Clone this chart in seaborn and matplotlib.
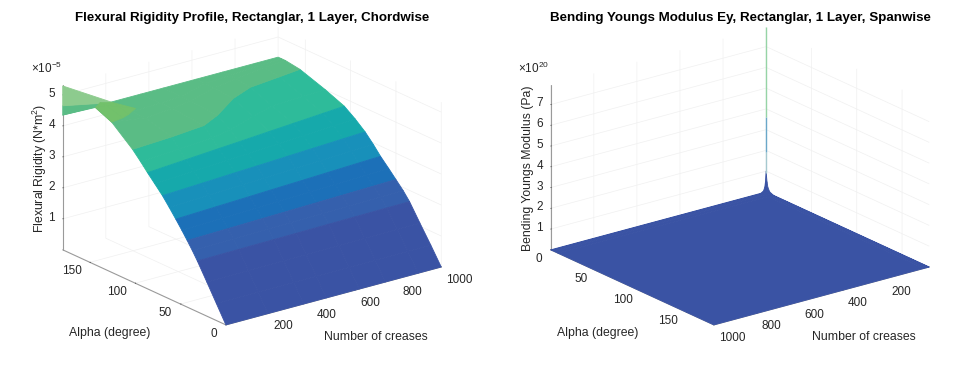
import numpy as np
import seaborn as sns
import matplotlib
matplotlib.use("Agg")
import matplotlib.pyplot as plt
from matplotlib.colors import ListedColormap, BoundaryNorm, to_rgba
from mpl_toolkits.mplot3d import proj3d

# colour bands of the surface
band_edges = [0, 1.64, 2.15, 2.67, 3.23, 3.75, 4.28, 4.85, 9]
band_colors = ['#3A53A4', '#3560AD', '#1C70B8', '#1890BA', '#16A9AB', '#2EBB9A', '#5ABC85', '#72C16B']

# left chart, rigidity in 1e-5: alpha (degree) where the surface reaches each height
creases = [0, 195, 361, 466, 619, 741, 893, 1000]
rigidity_levels = [0, 0.55, 1.1, 1.64, 1.9, 2.15, 2.4, 2.67, 2.95, 3.23, 3.5, 3.75, 4.0, 4.28]
alpha_at_level = [
    [0, 0, 0, 0, 0, 0, 0, 0],
    [10.5, 10.7, 10.9, 11, 11.1, 11.2, 11.4, 11.5],
    [21, 21.5, 21.9, 22.2, 22.5, 22.9, 23.2, 23.5],
    [31.5, 32.2, 32.8, 33.1, 33.7, 34.1, 34.6, 35],
    [37, 38, 38.8, 39.3, 40.1, 40.7, 41.5, 42],
    [42.7, 44.1, 45.3, 46.1, 47.2, 48.1, 49.2, 50],
    [48.6, 50.4, 52, 53, 54.4, 55.6, 57, 58],
    [55.3, 57.6, 59.5, 60.8, 62.5, 64, 65.8, 67],
    [62.5, 65, 67, 68.3, 70.2, 71.8, 73.7, 75],
    [70, 72.7, 75.1, 76.5, 78.7, 80.4, 82.5, 84],
    [78.5, 81.7, 84.5, 86.2, 88.7, 90.7, 93.2, 95],
    [86.5, 90.5, 93.9, 96, 99.2, 101.7, 104.8, 107],
    [94, 98, 101, 106, 117, 125, 127, 128],
    [103, 106, 110, 120, 139, 149, 153, 156],
]

# plateau above the last level, up to alpha 180
plateau_alpha = [
    [103, 106, 110, 120, 139, 149, 153, 156],
    [126, 135, 145, 150, 160, 165, 170, 172],
    [144, 150, 158, 160, 170, 172, 175, 176],
    [180, 180, 180, 180, 180, 180, 180, 180],
]
plateau_rigidity = [
    [4.28, 4.28, 4.28, 4.28, 4.28, 4.28, 4.28, 4.28],
    [4.85, 4.5, 4.36, 4.34, 4.34, 4.34, 4.35, 4.35],
    [5.08, 4.5, 4.36, 4.35, 4.35, 4.35, 4.35, 4.35],
    [4.35, 4.35, 4.35, 4.35, 4.35, 4.35, 4.35, 4.35],
]

# small hump near few creases
hump_creases = [0, 60, 100, 156]
hump_alpha = [
    [126, 128, 131, 137],
    [144, 146, 142, 137],
    [144, 153, 148.5, 137],
]
hump_rigidity = [
    [4.85, 4.85, 4.85, 4.85],
    [5.08, 5.0, 4.95, 4.85],
    [5.08, 5.0, 4.99, 4.85],
]

# fan from the jump at alpha 180 to the hump
fan_creases = [0, 100]
fan_alpha = [[180, 148.5], [180, 148.5], [180, 148.5]]
fan_rigidity = [[5.29, 4.99], [4.65, 4.99], [4.35, 4.99]]
fan_colors = ['#8DCB8E', '#5ABC85']

# right chart, modulus in 1e20
modulus_creases = [0, 3, 6, 12, 25, 1000]
modulus_alpha = [0, 1, 2, 4, 8, 180]
modulus = [
    [1.0, 0.5, 0.25, 0.08, 0, 0],
    [0.5, 0.3, 0.15, 0.05, 0, 0],
    [0.25, 0.15, 0.08, 0.03, 0, 0],
    [0.08, 0.05, 0.03, 0, 0, 0],
    [0, 0, 0, 0, 0, 0],
    [0, 0, 0, 0, 0, 0],
]
spike_heights = [0.9, 1.9, 3.6, 7.94]
spike_colors = ['#a6c9d0', '#6aa8c9', '#96d4a6']

alpha_ticks = [0, 50, 100, 150]
crease_ticks = [200, 400, 600, 800, 1000]
rigidity_ticks = [1, 2, 3, 4, 5]
modulus_ticks = [1, 2, 3, 4, 5, 6, 7]

sns.set_theme(style='white')
plt.rcParams['font.family'] = ['Liberation Sans', 'DejaVu Sans']
plt.rcParams['mathtext.default'] = 'regular'

cmap = ListedColormap(sns.color_palette(band_colors))
norm = BoundaryNorm(band_edges, cmap.N)

W, H = 976, 366
fig = plt.figure(figsize=(W / 100, H / 100), dpi=100)


def make_axes(center_x, z_top, z_ticks, azim, label_n, label_alpha):
    side = 408
    left = center_x - side * 0.95 / 1.85
    bottom = 190 - side * 0.95 / 1.85
    ax = fig.add_axes([left / W, bottom / H, side / W, side / H], projection='3d',
                      proj_type='ortho', computed_zorder=False)
    ax.patch.set_alpha(0)
    ax.view_init(elev=20.6, azim=azim)
    ax.set_box_aspect((271, 268.5, 176))
    ax.set_xlim(0, 1000)
    ax.set_ylim(0, 180)
    ax.set_zlim(0, z_top)
    ax.set_xticks(crease_ticks)
    ax.set_yticks(alpha_ticks)
    ax.set_zticks(z_ticks)
    for axis in (ax.xaxis, ax.yaxis, ax.zaxis):
        axis.set_pane_color((1, 1, 1, 0))
        axis.pane.set_edgecolor('none')
        axis.line.set_color('#9a9a9a')
        axis.line.set_linewidth(0.8)
        axis._axinfo['grid'].update(color='#f0f0f0', linewidth=0.5)
        axis._axinfo['tick'].update(color='#9a9a9a', inward_factor=0.0, outward_factor=0.03,
                                    linewidth={True: 0.5, False: 0.5})
    ax.tick_params(labelsize=8.5, labelcolor='#262626')
    ax.tick_params(axis='x', pad=-3.5)
    ax.tick_params(axis='y', pad=-2)
    plt.setp(ax.get_xticklabels(), ha='left')
    plt.setp(ax.get_yticklabels(), ha='right', va='center')
    # z tick labels sit just left of the z axis, level with their grid lines
    plt.setp(ax.get_zticklabels(), visible=False)
    proj = ax.get_proj()
    for z in z_ticks:
        px, py, _ = proj3d.proj_transform(label_n, label_alpha, z + 4 * z_top / 165, proj)
        ax.text2D(px, py, str(z), transform=ax.transData, fontsize=8.5, color='#262626',
                  ha='center', va='center')
    return ax


def surface(ax, xs, ys, zs, colors=None):
    xs, ys, zs = np.array(xs), np.array(ys), np.array(zs)
    if colors is None:
        mean_z = (zs[:-1, :-1] + zs[1:, :-1] + zs[:-1, 1:] + zs[1:, 1:]) / 4
        colors = cmap(norm(mean_z))
    ax.plot_surface(xs, ys, zs, rstride=1, cstride=1, facecolors=colors,
                    linewidth=0.6, antialiased=True, shade=False)


# left chart
ax1 = make_axes(252, 5.32, rigidity_ticks, -127.4, -51, 180)
n_main = np.tile(creases, (len(rigidity_levels), 1))
z_main = np.tile(np.array(rigidity_levels)[:, None], (1, len(creases)))
surface(ax1, n_main, alpha_at_level, z_main)
surface(ax1, np.tile(creases, (4, 1)), plateau_alpha, plateau_rigidity)
surface(ax1, np.tile(fan_creases, (3, 1)), fan_alpha, fan_rigidity,
        np.array([[to_rgba(c)] for c in fan_colors]))
surface(ax1, np.tile(hump_creases, (3, 1)), hump_alpha, hump_rigidity)

# right chart
ax2 = make_axes(740, 7.94, modulus_ticks, 52.6, 1051, 0)
mx, my = np.meshgrid(modulus_creases, modulus_alpha)
surface(ax2, mx, my, modulus)
for i, c in enumerate(spike_colors):
    ax2.plot([0, 0], [0, 0], spike_heights[i:i + 2], color=c, lw=1.0, solid_capstyle='butt')


def px_text(x, y, s, **kw):
    fig.text(x / W, 1 - y / H, s, ha='center', va='center', color=kw.pop('color', '#262626'), **kw)


px_text(252, 18, 'Flexural Rigidity Profile, Rectanglar, 1 Layer, Chordwise', fontsize=9.6,
        fontweight='bold', color='black')
px_text(740, 18, 'Bending Youngs Modulus Ey, Rectanglar, 1 Layer, Spanwise', fontsize=9.6,
        fontweight='bold', color='black')
px_text(110, 333, 'Alpha (degree)', fontsize=8.8)
px_text(376, 337, 'Number of creases', fontsize=8.8)
px_text(598, 333, 'Alpha (degree)', fontsize=8.8)
px_text(864, 337, 'Number of creases', fontsize=8.8)
px_text(40, 168, 'Flexural Rigidity (N*m$^2$)', fontsize=8.8, rotation=90)
px_text(528, 168, 'Bending Youngs Modulus (Pa)', fontsize=8.8, rotation=90)
px_text(47, 68, r'$\times 10^{-5}$', fontsize=8.5)
px_text(534, 68, r'$\times 10^{20}$', fontsize=8.5)

fig.savefig('out.png', dpi=100)
